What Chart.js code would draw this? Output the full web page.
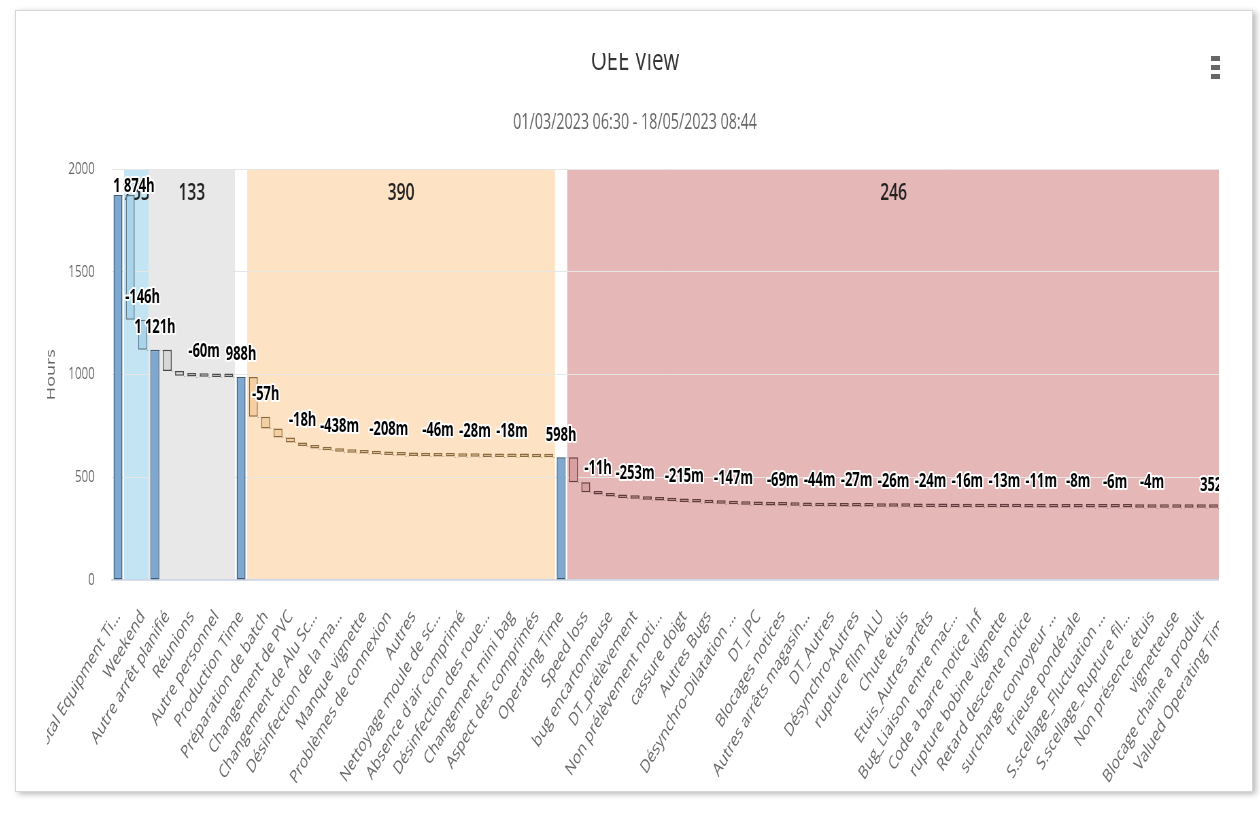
<!DOCTYPE html>
<html lang="fr">
<head>
<meta charset="utf-8">
<title>OEE View</title>
<script src="https://cdn.jsdelivr.net/npm/chart.js@4.4.1/dist/chart.umd.min.js"></script>
<style>
  html, body { margin: 0; padding: 0; background: #fff; }
  body { width: 1260px; height: 820px; position: relative; overflow: hidden; }
  #card { position: absolute; left: 15px; top: 10px; width: 1236px; height: 780px; border: 1px solid #d6d6d6; box-shadow: 3px 2px 6px rgba(0,0,0,0.28); background: #fff; }
  #viewport { position: absolute; left: 47px; top: 53px; width: 1172px; height: 730px; overflow: hidden; }
  #oee { position: absolute; left: -27px; top: -33px; transform: scaleX(0.68); transform-origin: 0 0; }
  #menu { position: absolute; left: 1211px; top: 56px; width: 9px; }
  #menu span { display: block; height: 5px; margin-bottom: 4px; background: #666; }
</style>
</head>
<body>
<div id="card"></div>
<div id="viewport"><canvas id="oee" width="1809" height="800"></canvas></div>
<div id="menu"><span></span><span></span><span></span></div>
<script>
// Catégories de l'axe X (l'axe n'affiche qu'une étiquette sur deux)
const categories = [
    'Total Equipment Ti…', '', 'Weekend', '', 'Autre arrêt planifié', '',
    'Réunions', '', 'Autre personnel', '', 'Production Time', '',
    'Préparation de batch', '', 'Changement de PVC', '', 'Changement de Alu Sc…', '',
    'Désinfection de la ma…', '', 'Manque vignette', '', 'Problèmes de connexion', '',
    'Autres', '', 'Nettoyage moule de sc…', '', "Absence d'air comprimé", '',
    'Désinfection des roue…', '', 'Changement mini bag', '', 'Aspect des comprimés', '',
    'Operating Time', '', 'Speed loss', '', 'bug encartonneuse', '',
    'DT_prélèvement', '', 'Non prélèvement noti…', '', 'cassure doigt', '',
    'Autres Bugs', '', 'Désynchro-Dilatation …', '', 'DT_IPC', '',
    'Blocages notices', '', 'Autres arrêts magasin…', '', 'DT_Autres', '',
    'Désynchro-Autres', '', 'rupture film ALU', '', 'Chute étuis', '',
    'Etuis_Autres arrêts', '', 'Bug_Liaison entre mac…', '', 'Code a barre notice Inf', '',
    'rupture bobine vignette', '', 'Retard descente notice', '', 'surcharge convoyeur …', '',
    'trieuse pondérale', '', 'S.scellage_Fluctuation …', '', 'S.scellage_Rupture fil…', '',
    'Non présence étuis', '', 'vignetteuse', '', 'Blocage chaine a produit', '',
    'Valued Operating Time'
];

// Durées en heures : valeur positive = total (barre depuis 0), négative = perte
const hours = [
    1874, -607, -146,
    1121, -104, -22, -4.5, -1, -0.9, -0.6,
    988, -193.1, -57, -44, -24, -18, -12, -8, -7.3, -5, -4.2, -3.6, -3.47,
    -2.6, -2.1, -1.5, -0.77, -0.7, -0.55, -0.47, -0.4, -0.35, -0.3, -0.25, -0.2, -0.15,
    598, -121.9, -49, -11, -9.5, -7, -4.22, -4.1, -3.9, -3.7, -3.58, -3.3, -3.0, -2.7,
    -2.45, -2.2, -1.8, -1.4, -1.15, -1.0, -0.85, -0.73, -0.6, -0.5, -0.45, -0.44, -0.43,
    -0.43, -0.42, -0.41, -0.4, -0.35, -0.3, -0.27, -0.25, -0.23, -0.22, -0.2, -0.19,
    -0.18, -0.16, -0.15, -0.13, -0.12, -0.11, -0.1, -0.09, -0.08, -0.07,
    -0.05, -0.05, -0.05, -0.05, -0.05,
    352
];

// Regroupements de pertes (plages d'index) affichés en fond
const groupFrom = [0.5, 2.5, 10.5, 36.5];
const groupTo = [2.5, 9.5, 35.5, 89.5];
const groupFill = ['#c2e4f3', '#e8e8e8', '#fde2c4', '#e5b7b7'];
const groupBar = ['#a9d5ea', '#d8d8d8', '#f4cfa2', '#d9a0a0'];
const groupEdge = ['#5f7886', '#4a4a4a', '#8a6a40', '#5e3c3c'];

// Points dont l'étiquette reste visible
const labelledPoints = [0, 2, 3, 7, 10, 12, 15, 18, 22, 26, 29, 32, 36, 39, 42, 46, 50,
    54, 57, 60, 63, 66, 69, 72, 75, 78, 81, 84, 90];

const yTicks = [0, 500, 1000, 1500, 2000];

Chart.defaults.font.family = '"Open Sans", sans-serif';

// Construction des barres flottantes de la cascade
const bars = [];
const levelAfter = [];
let level = 0;
hours.forEach(v => {
    if (v >= 0) {
        bars.push([0, v]);
        level = v;
    } else {
        bars.push([level, level + v]);
        level += v;
    }
    levelAfter.push(level);
});

function groupOf(i) {
    return groupFrom.findIndex((f, g) => i > f && i < groupTo[g]);
}

const fills = hours.map((v, i) => v >= 0 ? '#7ea8cf' : groupBar[groupOf(i)]);
const edges = hours.map((v, i) => v >= 0 ? '#3e5b79' : groupEdge[groupOf(i)]);

// Total des pertes de chaque groupe
const groupLoss = groupFrom.map((f, g) => {
    let sum = 0;
    hours.forEach((v, i) => { if (v < 0 && i > f && i < groupTo[g]) sum -= v; });
    return Math.round(sum);
});

// Format : heures au-delà de 10h, minutes sinon
function formatHours(v) {
    const a = Math.abs(v);
    const sign = v < 0 ? '-' : '';
    if (a >= 10) {
        return sign + Math.round(a).toString().replace(/\B(?=(\d{3})+(?!\d))/g, ' ') + 'h';
    }
    return sign + Math.round(a * 60) + 'm';
}

// Bandes de fond + total du groupe
const plotBands = {
    id: 'plotBands',
    beforeDraw(chart) {
        const { ctx, chartArea: { top, bottom }, scales: { x } } = chart;
        const x0 = x.getPixelForValue(0);
        const step = x.getPixelForValue(1) - x0;
        ctx.save();
        groupFrom.forEach((f, g) => {
            const left = x0 + f * step;
            const right = x0 + groupTo[g] * step;
            ctx.fillStyle = groupFill[g];
            ctx.fillRect(left, top, right - left, bottom - top);
            ctx.fillStyle = '#222';
            ctx.font = '600 23px "Open Sans"';
            ctx.textAlign = 'center';
            ctx.textBaseline = 'middle';
            ctx.fillText(String(groupLoss[g]), (left + right) / 2, top + 24);
        });
        ctx.restore();
    }
};

// Connecteurs pointillés et étiquettes de valeurs
const waterfallMarks = {
    id: 'waterfallMarks',
    afterDatasetsDraw(chart) {
        const { ctx, chartArea } = chart;
        const yScale = chart.scales.y;
        const els = chart.getDatasetMeta(0).data;
        ctx.save();
        ctx.strokeStyle = 'rgba(40,40,40,0.35)';
        ctx.lineWidth = 1;
        ctx.setLineDash([1.5, 3]);
        for (let i = 0; i < els.length - 1; i++) {
            const a = els[i], b = els[i + 1];
            const py = Math.round(yScale.getPixelForValue(levelAfter[i])) + 0.5;
            ctx.beginPath();
            ctx.moveTo(a.x + a.width / 2, py);
            ctx.lineTo(b.x - b.width / 2, py);
            ctx.stroke();
        }
        ctx.setLineDash([]);

        ctx.font = 'bold 19px "Open Sans"';
        ctx.textAlign = 'center';
        ctx.textBaseline = 'middle';
        ctx.lineJoin = 'round';
        labelledPoints.forEach(i => {
            const el = els[i];
            const text = formatHours(hours[i]);
            const w = ctx.measureText(text).width;
            const cx = Math.max(chartArea.left + w / 2 + 2, Math.min(chartArea.right - w / 2 - 2, el.x));
            const top = Math.min(el.y, el.base);
            const cy = Math.max(top - 22, chartArea.top + 17);
            ctx.lineWidth = 4;
            ctx.strokeStyle = '#fff';
            ctx.strokeText(text, cx, cy);
            ctx.fillStyle = '#000';
            ctx.fillText(text, cx, cy);
        });
        ctx.restore();
    }
};

new Chart(document.getElementById('oee'), {
    type: 'bar',
    data: {
        labels: categories,
        datasets: [{
            data: bars,
            backgroundColor: fills,
            borderColor: edges,
            borderWidth: 1.5,
            borderSkipped: false,
            barPercentage: 0.72,
            categoryPercentage: 1,
            minBarLength: 3.5
        }]
    },
    options: {
        responsive: false,
        animation: false,
        devicePixelRatio: 1,
        layout: { padding: { left: 21, right: 21, top: 0, bottom: 0 } },
        plugins: {
            legend: { display: false },
            tooltip: { enabled: false },
            title: {
                display: true,
                text: 'OEE View',
                color: '#333',
                font: { size: 30, weight: 'normal' },
                padding: { top: 23, bottom: 0 }
            },
            subtitle: {
                display: true,
                text: '01/03/2023 06:30 - 18/05/2023 08:44',
                color: '#666',
                font: { size: 21 },
                padding: { top: 31, bottom: 34 }
            }
        },
        scales: {
            x: {
                grid: { display: false },
                border: { display: true, color: '#ccd6eb', width: 1.5 },
                ticks: {
                    autoSkip: false,
                    minRotation: 50,
                    maxRotation: 50,
                    color: '#666',
                    font: { size: 19 },
                    padding: 18
                },
                afterFit: s => { s.height = 240; }
            },
            y: {
                min: 0,
                max: 2000,
                afterBuildTicks: s => { s.ticks = yTicks.map(v => ({ value: v })); },
                grid: { color: '#e6e6e6', lineWidth: 1, drawTicks: false },
                border: { display: false },
                ticks: { color: '#666', font: { size: 17 }, padding: 25, callback: v => String(v) },
                title: {
                    display: true,
                    text: 'Hours',
                    color: '#666',
                    font: { size: 18 },
                    padding: { top: 14, bottom: 0 }
                },
                afterFit: s => { s.width = 114; }
            }
        }
    },
    plugins: [plotBands, waterfallMarks]
});
</script>
</body>
</html>
